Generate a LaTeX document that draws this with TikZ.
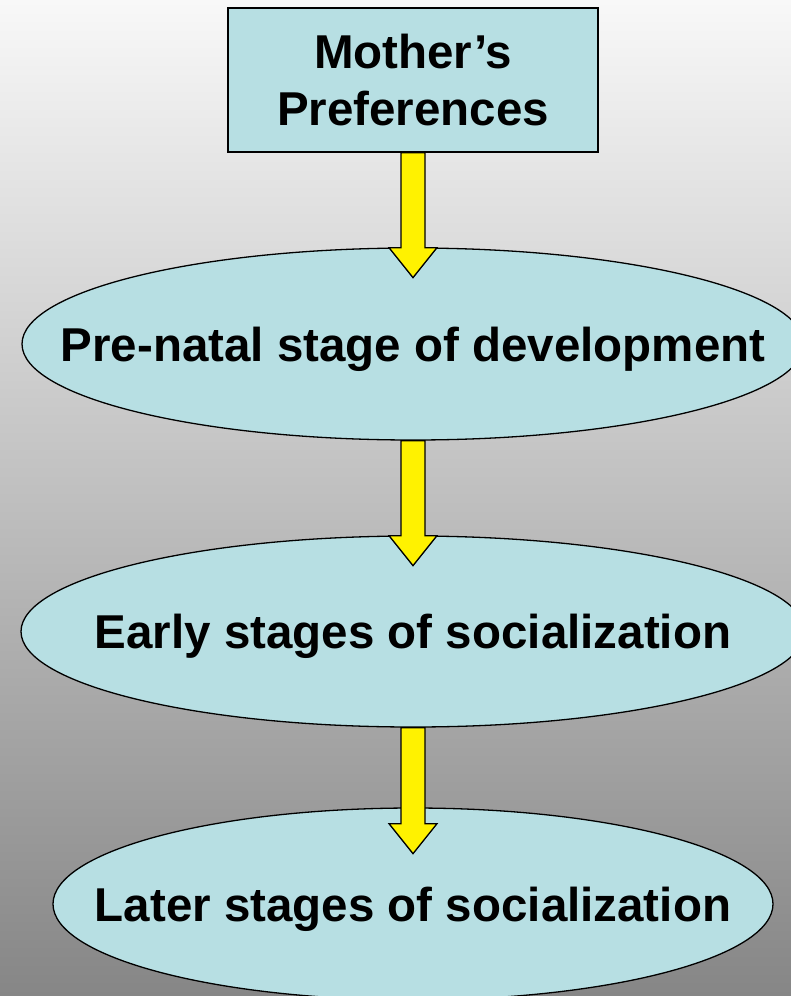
\documentclass[tikz,border=0pt]{standalone}
\usepackage{fontspec}
\setmainfont{Liberation Sans}
\usetikzlibrary{shapes.geometric,calc}
\definecolor{stageblue}{RGB}{183,223,227}
\definecolor{bgtop}{RGB}{248,248,248}
\definecolor{bgbottom}{RGB}{134,134,134}
%yellow block arrow from #1 down to #2:
\newcommand{\blockarrow}[2]{%
\draw[arrowbody] let \p1=(#1), \p2=(#2) in
 (\x1-12pt,\y1)--(\x1-12pt,\y2+30pt)--(\x1-24pt,\y2+30pt)--(\x1,\y2)
 --(\x1+24pt,\y2+30pt)--(\x1+12pt,\y2+30pt)--(\x1+12pt,\y1)--cycle;}
\begin{document}
\begin{tikzpicture}[x=1pt, y=-1pt,
  stage/.style={ellipse, draw, line width=1.3pt, fill=stageblue, inner sep=0pt,
    font=\bfseries\fontsize{47.5}{57}\selectfont, text height=34pt, text depth=0pt},
  arrowbody/.style={draw, line width=1.3pt, fill=yellow, line join=miter}]
%background:
\shade[top color=bgtop, bottom color=bgbottom] (0,0) rectangle (791,996);
\useasboundingbox (0,0) rectangle (791,996);
%box:
\node[draw, line width=1.3pt, fill=stageblue, minimum width=370pt, minimum height=144pt,
  align=center, font=\bfseries\fontsize{47.5}{57}\selectfont] (mother) at (413,80)
  {Mother’s\\Preferences};
%stages:
\node[stage, minimum width=782pt, minimum height=192pt] (prenatal) at (413,344)
  {\makebox[0pt]{Pre-natal stage of development}};
\node[stage, minimum width=784pt, minimum height=191pt] (early) at (413,631.5)
  {\makebox[0pt]{Early stages of socialization}};
\node[stage, minimum width=720pt, minimum height=192pt] (later) at (413,904)
  {\makebox[0pt]{Later stages of socialization}};
%arrows:
\coordinate (tipA) at ([yshift=-125pt]mother.south);
\coordinate (tipB) at ([yshift=-125pt]prenatal.south);
\coordinate (tipC) at ([yshift=-126pt]early.south);
\blockarrow{mother.south}{tipA}
\blockarrow{prenatal.south}{tipB}
\blockarrow{early.south}{tipC}
\end{tikzpicture}
\end{document}
